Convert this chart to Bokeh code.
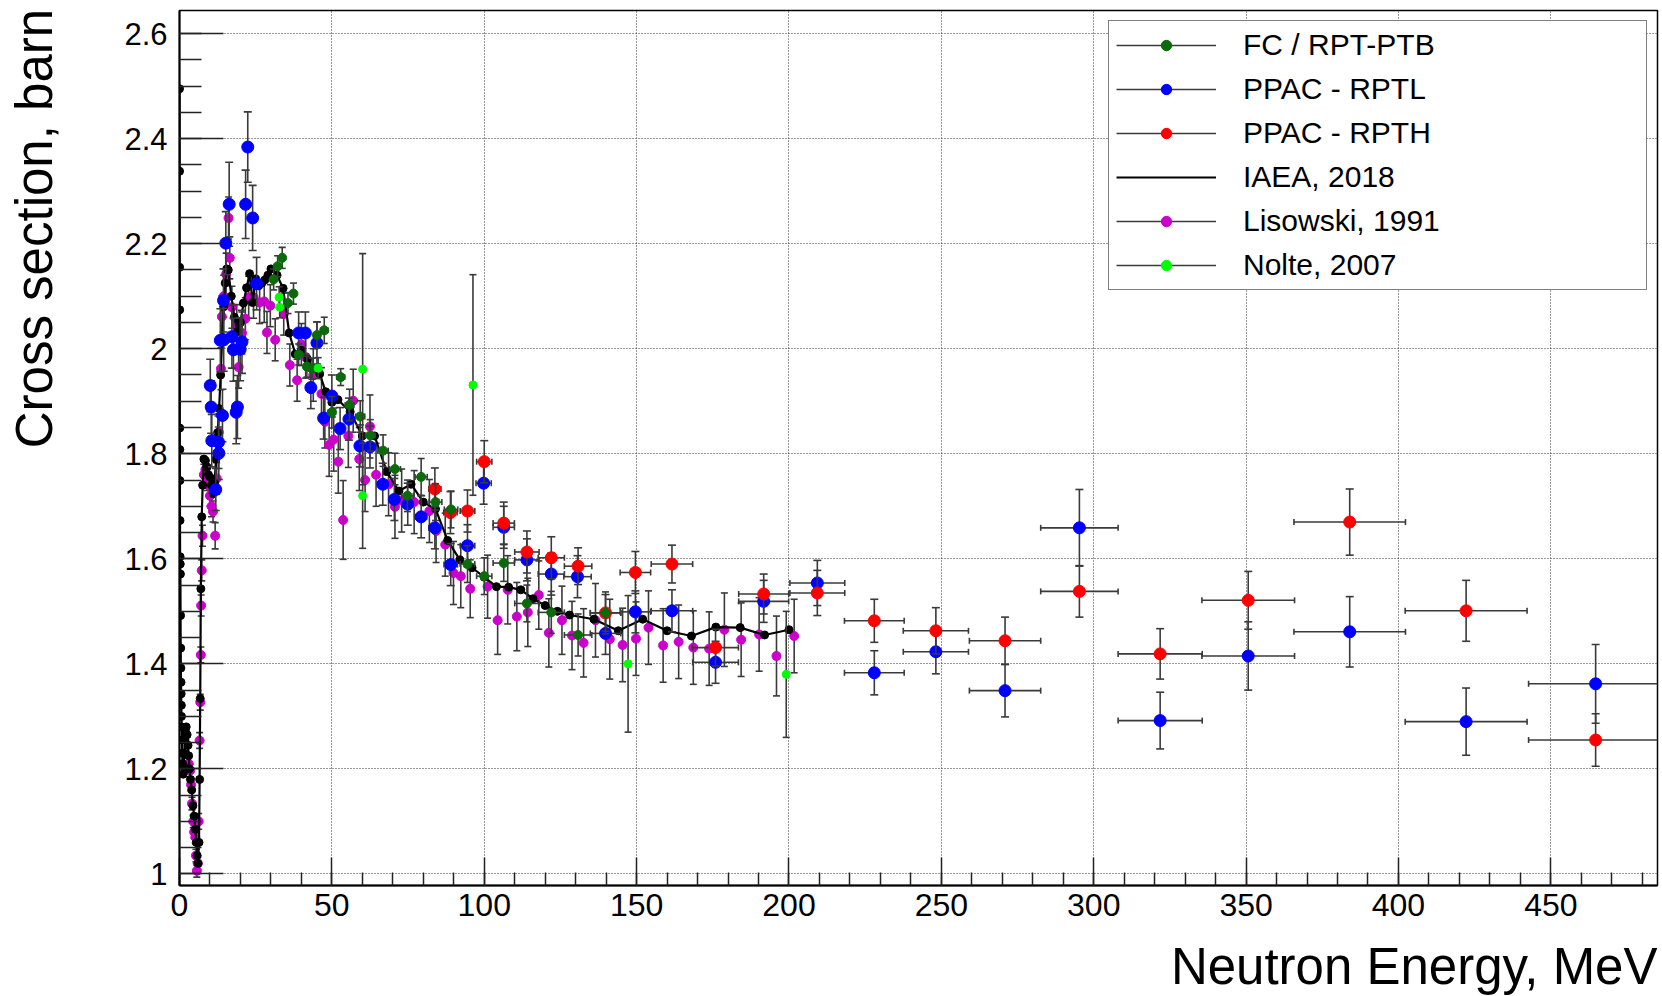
import numpy as np
from bokeh.plotting import figure
from bokeh.layouts import column, row
from bokeh.models import (Range1d, FixedTicker, CustomJSTickFormatter, Legend,
                          LegendItem, ColumnDataSource)
from bokeh.core.properties import value
from bokeh.embed import file_html
from bokeh.resources import INLINE

# ---------------- data ----------------
# IAEA 2018 evaluation (line)
E_iaea = [0.01, 0.02, 0.04, 0.06, 0.08, 0.10, 0.13, 0.16, 0.20, 0.25,
          0.30, 0.35, 0.40, 0.45, 0.50, 0.55, 0.60, 0.65, 0.70, 0.80,
          0.90, 1.0, 1.2, 1.4, 1.6, 1.8, 2.0, 2.2, 2.5, 2.8,
          3.0, 3.3, 3.6, 4.0, 4.4, 4.8, 5.2, 5.5, 5.8, 6.1,
          6.4, 6.6, 6.8, 7.0, 7.3, 7.6, 8.0, 8.5, 9.0, 9.5,
          10.0, 10.5, 11.0, 11.5, 12.0, 12.5, 13.0, 13.5, 14.0, 14.5,
          15.0, 15.5, 16.0, 17.0, 18.0, 19.0, 20.0, 21.0, 22.0, 23.0,
          24.0, 25.0, 26.0, 27.0, 28.0, 29.0, 30.0, 32.0, 34.0, 36.0,
          38.0, 40.0, 42.0, 44.0, 46.0, 48.0, 50.0, 52.0, 56.0, 60.0,
          64.0, 68.0, 72.0, 76.0, 80.0, 84.0, 88.0, 92.0, 96.0, 100.0,
          104.0, 108.0, 112.0, 116.0, 120.0, 124.0, 128.0, 136.0, 144.0, 152.0,
          160.0, 168.0, 176.0, 184.0, 192.0, 200.0]
Y_iaea = [2.495, 2.338, 2.155, 2.074, 1.849, 1.808, 1.749, 1.673, 1.604, 1.590,
          1.571, 1.492, 1.430, 1.392, 1.365, 1.343, 1.321, 1.300, 1.280, 1.255,
          1.230, 1.210, 1.190, 1.205, 1.230, 1.255, 1.270, 1.280, 1.265, 1.245,
          1.225, 1.200, 1.180, 1.160, 1.130, 1.110, 1.085, 1.060, 1.035, 1.020,
          1.060, 1.180, 1.334, 1.543, 1.680, 1.740, 1.790, 1.787, 1.775, 1.760,
          1.755, 1.740, 1.724, 1.745, 1.790, 1.840, 1.886, 1.950, 2.020, 2.080,
          2.125, 2.152, 2.150, 2.100, 2.060, 2.033, 2.050, 2.087, 2.116, 2.143,
          2.088, 2.133, 2.120, 2.125, 2.131, 2.140, 2.152, 2.140, 2.115, 2.030,
          1.990, 1.997, 1.980, 1.962, 1.952, 1.918, 1.898, 1.903, 1.880, 1.834,
          1.834, 1.766, 1.729, 1.742, 1.708, 1.695, 1.635, 1.598, 1.583, 1.565,
          1.547, 1.546, 1.541, 1.524, 1.511, 1.500, 1.493, 1.485, 1.463, 1.485,
          1.463, 1.453, 1.470, 1.469, 1.455, 1.465]

# Lisowski, 1991
E_lis = [3.0, 3.5, 3.8, 4.1, 4.5, 4.8, 5.2, 5.4, 5.7, 6.0,
         6.3, 6.6, 6.8, 7.0, 7.1, 7.3, 7.55, 8.0, 8.5, 9.0,
         9.5, 10.0, 10.5, 11.0, 11.7, 12.2, 12.9, 13.6, 13.9, 14.5,
         15.3, 16.1, 16.5, 17.2, 18.8, 19.4, 20.5, 21.6, 22.7, 24.3,
         26.3, 27.8, 28.7, 29.8, 31.4, 34.2, 36.2, 38.6, 40.0, 41.4,
         43.9, 46.6, 47.7, 49.1, 50.6, 52.1, 53.7, 55.4, 57.0, 59.0,
         60.9, 62.5, 64.5, 68.6, 70.7, 72.9, 77.0, 82.0, 84.2, 87.2,
         89.9, 92.3, 95.4, 101.1, 104.4, 107.7, 110.7, 114.3, 117.9, 121.2,
         125.5, 128.8, 132.6, 136.5, 141.2, 145.4, 149.8, 153.9, 158.7, 163.8,
         168.6, 173.8, 178.8, 184.3, 190.2, 195.9, 201.7]
Y_lis = [1.210, 1.197, 1.170, 1.134, 1.100, 1.080, 1.070, 1.035, 1.006, 1.020,
         1.100, 1.254, 1.327, 1.417, 1.511, 1.578, 1.644, 1.760, 1.770, 1.750,
         1.740, 1.720, 1.700, 1.690, 1.644, 1.753, 1.841, 1.962, 2.061, 2.100,
         2.142, 2.249, 2.173, 2.079, 2.044, 1.965, 2.030, 2.057, 2.098, 2.098,
         2.088, 2.090, 2.031, 2.082, 2.017, 2.066, 1.969, 1.940, 2.008, 1.984,
         1.950, 1.914, 1.861, 1.817, 1.827, 1.785, 1.674, 1.834, 1.901, 1.790,
         1.750, 1.852, 1.760, 1.742, 1.699, 1.711, 1.708, 1.691, 1.653, 1.627,
         1.573, 1.567, 1.543, 1.547, 1.483, 1.541, 1.490, 1.498, 1.531, 1.459,
         1.483, 1.454, 1.440, 1.483, 1.447, 1.436, 1.448, 1.469, 1.435, 1.442,
         1.431, 1.429, 1.465, 1.446, 1.456, 1.415, 1.453]
dY_lis = [0.012, 0.012, 0.012, 0.012, 0.012, 0.012, 0.012, 0.012, 0.012, 0.012,
          0.015, 0.015, 0.015, 0.015, 0.02, 0.02, 0.02, 0.02, 0.02, 0.02,
          0.02, 0.02, 0.02, 0.02, 0.025, 0.03, 0.035, 0.04, 0.04, 0.04,
          0.04, 0.04, 0.04, 0.04, 0.04, 0.04, 0.04, 0.04, 0.04, 0.04,
          0.04, 0.04, 0.04, 0.04, 0.04, 0.04, 0.04, 0.04, 0.04, 0.04,
          0.05, 0.05, 0.05, 0.06, 0.06, 0.06, 0.075, 0.06, 0.06, 0.06,
          0.06, 0.06, 0.06, 0.06, 0.06, 0.06, 0.06, 0.06, 0.06, 0.06,
          0.06, 0.06, 0.055, 0.06, 0.065, 0.065, 0.065, 0.065, 0.065, 0.065,
          0.065, 0.065, 0.065, 0.07, 0.076, 0.07, 0.07, 0.07, 0.07, 0.07,
          0.07, 0.07, 0.07, 0.07, 0.07, 0.076, 0.07]

# Nolte, 2007
E_nol = [32.7, 32.9, 45.5, 60.1, 60.1, 96.3, 147.2, 199.1]
Y_nol = [2.098, 2.079, 1.963, 1.961, 1.720, 1.931, 1.400, 1.380]
dY_nol = [0.02, 0.02, 0.02, 0.22, 0.10, 0.21, 0.13, 0.12]

# FC / RPT-PTB
E_fc = [30.9, 32.2, 33.7, 35.6, 37.4, 39.1, 41.8, 43.5, 45.1, 47.5,
        50.0, 52.9, 55.8, 59.3, 62.6, 66.8, 70.7, 74.8, 79.3, 84.0,
        89.1, 94.5, 100.0, 106.4, 114.0, 122.0, 130.8, 139.8]
Y_fc = [2.132, 2.157, 2.173, 2.087, 2.105, 1.989, 1.966, 1.962, 2.026, 2.035,
        1.879, 1.946, 1.893, 1.871, 1.835, 1.806, 1.771, 1.720, 1.756, 1.708,
        1.694, 1.590, 1.567, 1.592, 1.515, 1.498, 1.455, 1.497]
dY_fc = [0.02, 0.02, 0.02, 0.02, 0.02, 0.02, 0.02, 0.02, 0.025, 0.025,
         0.03, 0.016, 0.03, 0.03, 0.03, 0.03, 0.03, 0.03, 0.035, 0.035,
         0.035, 0.035, 0.035, 0.035, 0.035, 0.04, 0.04, 0.04]
dE_fc = [0.8, 0.8, 0.8, 0.9, 0.9, 1.0, 1.0, 1.1, 1.1, 1.2,
         1.2, 1.3, 1.4, 1.5, 1.6, 1.7, 1.8, 1.9, 2.0, 2.1,
         2.2, 2.4, 2.5, 3.5, 4.0, 4.3, 4.5, 5.0]

# PPAC - RPTL
E_rptl = [10.1, 10.4, 10.6, 11.9, 12.8, 12.9, 13.4, 14.1, 14.45, 14.5,
          15.2, 16.3, 17.2, 17.7, 18.6, 19.0, 19.9, 20.5, 21.7, 22.4,
          24.0, 25.3, 39.1, 41.3, 43.1, 45.1, 47.3, 50.0, 52.7, 55.6,
          59.2, 62.5, 66.7, 70.5, 74.9, 79.3, 83.8, 89.0, 94.5, 99.8,
          106.4, 114.0, 122.0, 130.6, 139.8, 149.6, 161.6, 175.9, 191.7, 209.3,
          228.0, 248.2, 270.9, 295.3, 321.8, 350.7, 384.0, 422.2, 464.7]
Y_rptl = [1.930, 1.889, 1.825, 1.732, 1.822, 1.801, 2.016, 1.873, 2.092, 2.017,
          2.201, 2.275, 2.023, 1.998, 1.879, 1.889, 1.999, 2.013, 2.275, 2.384,
          2.249, 2.124, 2.030, 2.030, 1.926, 2.011, 1.868, 1.910, 1.848, 1.866,
          1.815, 1.813, 1.742, 1.713, 1.704, 1.680, 1.659, 1.589, 1.625, 1.744,
          1.660, 1.598, 1.571, 1.566, 1.458, 1.499, 1.501, 1.403, 1.519, 1.554,
          1.383, 1.423, 1.349, 1.659, 1.292, 1.415, 1.461, 1.290, 1.362]
dY_rptl = [0.05, 0.05, 0.05, 0.04, 0.05, 0.05, 0.06, 0.05, 0.06, 0.06,
           0.06, 0.08, 0.06, 0.06, 0.06, 0.06, 0.06, 0.06, 0.065, 0.067,
           0.062, 0.05, 0.04, 0.04, 0.04, 0.04, 0.04, 0.04, 0.04, 0.04,
           0.04, 0.04, 0.04, 0.04, 0.04, 0.04, 0.04, 0.04, 0.04, 0.04,
           0.04, 0.04, 0.04, 0.04, 0.04, 0.04, 0.04, 0.04, 0.04, 0.043,
           0.042, 0.042, 0.05, 0.073, 0.054, 0.065, 0.067, 0.064, 0.075]
dE_rptl = [0.2, 0.2, 0.2, 0.2, 0.2, 0.2, 0.3, 0.3, 0.3, 0.3,
           0.3, 0.3, 0.3, 0.3, 0.3, 0.4, 0.4, 0.4, 0.4, 0.4,
           0.5, 0.5, 0.8, 0.8, 0.9, 0.9, 1.0, 1.0, 1.1, 1.1,
           1.2, 1.3, 1.4, 1.5, 1.6, 1.8, 2.0, 2.2, 2.4, 2.5,
           3.5, 4.0, 4.3, 4.5, 5.0, 5.0, 6.8, 7.5, 8.2, 9.0,
           9.8, 10.7, 11.7, 12.7, 13.8, 15.2, 18.3, 20.0, 22.0]

# PPAC - RPTH
E_rpth = [83.8, 88.9, 94.5, 100.0, 106.4, 114.0, 122.0, 130.8, 139.8, 149.6,
          161.6, 175.9, 191.7, 209.3, 228.0, 248.2, 270.9, 295.3, 321.8, 350.7,
          384.0, 422.2, 464.7]
Y_rpth = [1.733, 1.688, 1.691, 1.785, 1.668, 1.613, 1.602, 1.586, 1.497, 1.574,
          1.590, 1.431, 1.533, 1.535, 1.482, 1.463, 1.444, 1.538, 1.419, 1.521,
          1.670, 1.501, 1.255]
dY_rpth = [0.04, 0.04, 0.04, 0.04, 0.04, 0.04, 0.04, 0.035, 0.035, 0.04,
           0.036, 0.035, 0.038, 0.043, 0.041, 0.044, 0.045, 0.049, 0.048, 0.055,
           0.063, 0.058, 0.05]
dE_rpth = [2.0, 2.2, 2.4, 2.5, 3.5, 4.0, 4.3, 4.5, 5.0, 5.0,
           6.8, 7.5, 8.2, 9.0, 9.8, 10.7, 11.7, 12.7, 13.8, 15.2,
           18.3, 20.0, 22.0]

# axis ticks and titles
x_major = [0, 50, 100, 150, 200, 250, 300, 350, 400, 450]
x_minor = [v for v in range(0, 490, 10)]
y_major = [1.0, 1.2, 1.4, 1.6, 1.8, 2.0, 2.2, 2.4, 2.6]
y_minor = [round(1.0 + 0.05 * i, 2) for i in range(33)]
x_title = "Neutron Energy, MeV"
y_title = "Cross section, barn"

X_MIN, X_MAX = 0.0, 485.0
Y_MIN, Y_MAX = 0.978, 2.644

# ---------------- layout sizes ----------------
W, H = 1662, 996
LEFT_W = 100          # strip holding the y title
BOTTOM_H = 61         # strip holding the x title
MAIN_W, MAIN_H = W - LEFT_W, H - BOTTOM_H

FONT = "Liberation Sans"
ERR = "#3a3a3a"

p = figure(width=MAIN_W, height=MAIN_H, output_backend="svg", toolbar_location=None,
           x_range=Range1d(X_MIN, X_MAX), y_range=Range1d(Y_MIN, Y_MAX),
           min_border_left=179 - LEFT_W, min_border_right=5, min_border_top=10,
           min_border_bottom=MAIN_H - 885)
p.background_fill_color = "white"
p.border_fill_color = "white"
p.outline_line_color = "black"
p.outline_line_width = 1.5

p.xaxis.ticker = FixedTicker(ticks=x_major, minor_ticks=x_minor)
p.yaxis.ticker = FixedTicker(ticks=y_major, minor_ticks=y_minor)
p.yaxis.formatter = CustomJSTickFormatter(code="return String(Math.round(tick*10)/10);")

for ax in (p.xaxis[0], p.yaxis[0]):
    ax.axis_line_color = "black"
    ax.axis_line_width = 2
    ax.major_tick_line_color = "#222222"
    ax.minor_tick_line_color = "#222222"
    ax.major_tick_line_width = 1.5
    ax.minor_tick_line_width = 1.5
    ax.major_tick_out = 0
    ax.minor_tick_out = 0
    ax.major_label_text_font = FONT
    ax.major_label_text_color = "black"

p.xaxis.major_tick_in = 28
p.xaxis.minor_tick_in = 13
p.yaxis.major_tick_in = 44
p.yaxis.minor_tick_in = 22
p.xaxis.major_label_text_font_size = "32px"
p.yaxis.major_label_text_font_size = "31px"
p.xaxis.major_label_standoff = 8
p.yaxis.major_label_standoff = 12

for g in (p.xgrid[0], p.ygrid[0]):
    g.grid_line_color = "#333333"
    g.grid_line_width = 1
    g.grid_line_dash = "1 2"


def errors(E, Y, dY, dE, cap=8):
    E = np.asarray(E, float)
    Y = np.asarray(Y, float)
    dY = np.asarray(dY, float)
    src = dict(x=E, y=Y, yl=Y - dY, yu=Y + dY)
    if dE is not None:
        dE = np.asarray(dE, float)
        src.update(xl=E - dE, xu=E + dE)
    src = ColumnDataSource(src)
    rv = p.segment(x0="x", y0="yl", x1="x", y1="yu", source=src,
                   line_color=ERR, line_width=1.6)
    p.scatter(x="x", y="yl", source=src, marker="dash", size=cap,
              line_color=ERR, line_width=1.6)
    p.scatter(x="x", y="yu", source=src, marker="dash", size=cap,
              line_color=ERR, line_width=1.6)
    if dE is not None:
        rv = p.segment(x0="xl", y0="y", x1="xu", y1="y", source=src,
                       line_color=ERR, line_width=1.6)
        p.scatter(x="xl", y="y", source=src, marker="dash", size=6, angle=np.pi / 2,
                  line_color=ERR, line_width=1.6)
        p.scatter(x="xu", y="y", source=src, marker="dash", size=6, angle=np.pi / 2,
                  line_color=ERR, line_width=1.6)
    return rv


# Lisowski
lis_bar = errors(E_lis, Y_lis, dY_lis, None, cap=7)
lis_pts = p.scatter(E_lis, Y_lis, size=9, color="#cc00cc")
# IAEA
iaea_line = p.line(E_iaea, Y_iaea, line_color="black", line_width=2.2)
p.scatter(E_iaea, Y_iaea, size=8, color="black")
# RPTL
rptl_bar = errors(E_rptl, Y_rptl, dY_rptl, dE_rptl)
rptl_pts = p.scatter(E_rptl, Y_rptl, size=12, color="#0000ff")
# RPTH
rpth_bar = errors(E_rpth, Y_rpth, dY_rpth, dE_rpth)
rpth_pts = p.scatter(E_rpth, Y_rpth, size=12, color="#ff0000")
# FC
fc_bar = errors(E_fc, Y_fc, dY_fc, dE_fc, cap=7)
fc_pts = p.scatter(E_fc, Y_fc, size=9, color="#0b6b0b")
# Nolte
nol_bar = errors(E_nol, Y_nol, dY_nol, None, cap=7)
nol_pts = p.scatter(E_nol, Y_nol, size=8, color="#00ff00")

legend = Legend(items=[
    LegendItem(label="FC / RPT-PTB", renderers=[fc_bar, fc_pts]),
    LegendItem(label="PPAC - RPTL", renderers=[rptl_bar, rptl_pts]),
    LegendItem(label="PPAC - RPTH", renderers=[rpth_bar, rpth_pts]),
    LegendItem(label="IAEA, 2018", renderers=[iaea_line]),
    LegendItem(label="Lisowski, 1991", renderers=[lis_bar, lis_pts]),
    LegendItem(label="Nolte, 2007", renderers=[nol_bar, nol_pts]),
], location="top_right")
legend.margin = 10
legend.padding = 7
legend.spacing = 10
legend.glyph_width = 100
legend.glyph_height = 26
legend.label_height = 34
legend.label_width = 396
legend.label_standoff = 27
legend.label_text_font = FONT
legend.label_text_font_size = "30px"
legend.label_text_color = "black"
legend.border_line_color = "black"
legend.border_line_width = 1.5
legend.background_fill_color = "white"
legend.background_fill_alpha = 1.0
p.add_layout(legend)


def strip(w, h):
    f = figure(width=w, height=h, output_backend="svg", toolbar_location=None,
               x_range=Range1d(0, w), y_range=Range1d(0, h),
               x_axis_location=None, y_axis_location=None, min_border=0)
    f.outline_line_color = None
    f.grid.visible = False
    f.background_fill_color = "white"
    f.border_fill_color = "white"
    return f


# y title strip (left): text reads upward, spanning the upper half of the frame
ys = strip(LEFT_W, MAIN_H)
ys.text(x=[33.5], y=[MAIN_H - 233.0], text=[y_title], angle=np.pi / 2,
        text_align="center", text_baseline="middle",
        text_font=value(FONT), text_font_size=value("51px"), text_color="black")

# x title strip (bottom): right aligned with the frame's right edge
xs = strip(W, BOTTOM_H)
xs.text(x=[1657], y=[30.0], text=[x_title],
        text_align="right", text_baseline="middle",
        text_font=value(FONT), text_font_size=value("51px"), text_color="black")

layout = column(row(ys, p, spacing=0), xs, spacing=0)

open("out.html", "w").write(file_html(layout, INLINE))
